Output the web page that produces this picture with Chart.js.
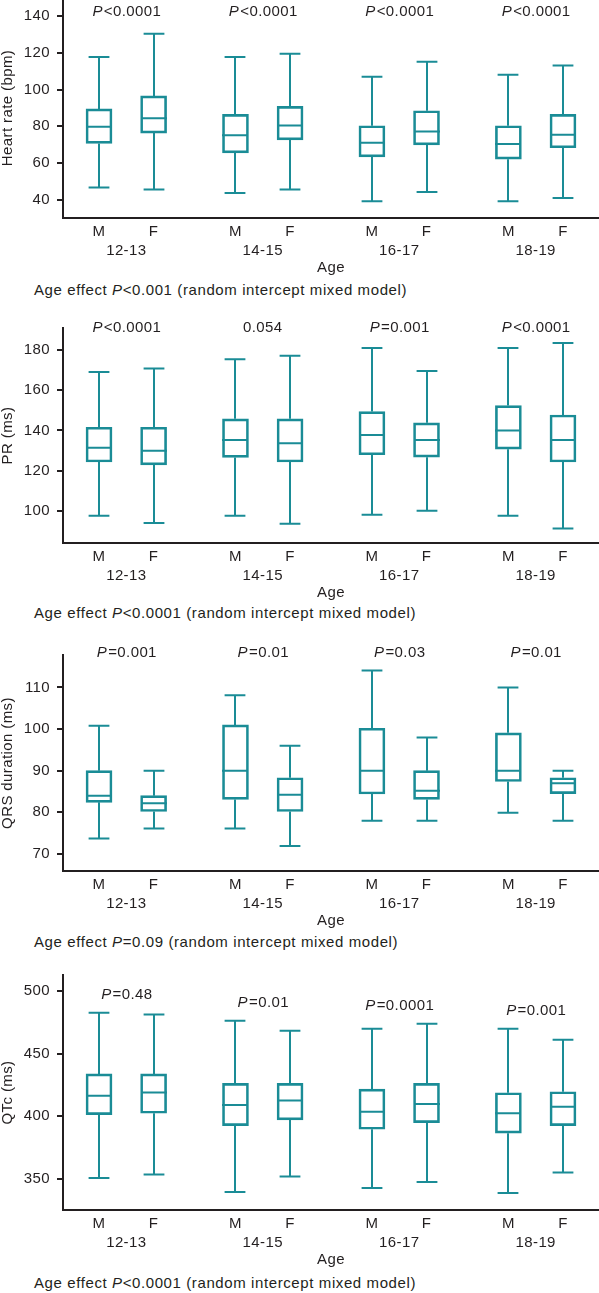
<!DOCTYPE html>
<html>
<head>
<meta charset="utf-8">
<script src="https://cdn.jsdelivr.net/npm/chart.js@4.4.0/dist/chart.umd.min.js"></script>
<style>
body { margin: 0; background: #fff; width: 599px; height: 1293px; position: relative; overflow: hidden; }
canvas { position: absolute; left: 0; }
.caption { position: absolute; left: 34px; font-family: "Liberation Sans", Arial, sans-serif; font-size: 15px; line-height: 18px; letter-spacing: 0.6px; color: #231f20; white-space: nowrap; }
</style>
</head>
<body>
<canvas id="hrChart" width="599" height="297" style="top:-20px"></canvas>
<div class="caption" style="top:281px">Age effect <i>P</i>&lt;0.001 (random intercept mixed model)</div>
<canvas id="prChart" width="599" height="292" style="top:310px"></canvas>
<div class="caption" style="top:604px">Age effect <i>P</i>&lt;0.0001 (random intercept mixed model)</div>
<canvas id="qrsChart" width="599" height="293" style="top:637px"></canvas>
<div class="caption" style="top:933px">Age effect <i>P</i>=0.09 (random intercept mixed model)</div>
<canvas id="qtcChart" width="599" height="312" style="top:957px"></canvas>
<div class="caption" style="top:1274px">Age effect <i>P</i>&lt;0.0001 (random intercept mixed model)</div>

<script>
// Categories: sex within age group
const ageGroups = ['12-13', '14-15', '16-17', '18-19'];
const sexLabels = ['M', 'F', 'M', 'F', 'M', 'F', 'M', 'F'];
const boxPositions = [0, 1, 2.5, 3.5, 5, 6, 7.5, 8.5];
const groupPositions = [0.5, 3, 5.5, 8];

// Heart rate (bpm)
const hrMin = [46.7, 45.5, 43.6, 45.5, 39.1, 44.2, 39.1, 40.9];
const hrQ1 = [70.7, 76.3, 65.5, 72.6, 63.3, 69.9, 62.1, 68.3];
const hrMedian = [79.8, 84.4, 75.2, 80.5, 71.0, 77.2, 70.3, 75.4];
const hrQ3 = [89.5, 96.6, 86.5, 90.9, 80.3, 88.5, 80.3, 86.5];
const hrMax = [117.8, 130.5, 117.8, 119.6, 107.0, 115.2, 108.1, 113.2];
const hrPValues = ['P<0.0001', 'P<0.0001', 'P<0.0001', 'P<0.0001'];
const hrTicks = [40, 60, 80, 100, 120, 140];

// PR (ms)
const prMin = [97.6, 94.0, 97.6, 93.6, 98.0, 100.0, 97.6, 91.2];
const prQ1 = [124.3, 122.9, 126.6, 124.3, 127.9, 126.7, 130.7, 124.3];
const prMedian = [131.4, 129.9, 135.3, 133.7, 137.7, 135.3, 140.0, 135.3];
const prQ3 = [141.6, 141.6, 145.8, 145.8, 149.4, 143.8, 152.4, 147.7];
const prMax = [169.1, 170.9, 175.4, 177.2, 181.1, 169.6, 181.1, 183.5];
const prPValues = ['P<0.0001', '0.054', 'P=0.001', 'P<0.0001'];
const prTicks = [100, 120, 140, 160, 180];

// QRS duration (ms)
const qrsMin = [73.7, 76.1, 76.1, 71.9, 78.0, 78.0, 79.9, 78.0];
const qrsQ1 = [82.4, 80.2, 83.1, 80.2, 84.4, 83.1, 87.4, 84.5];
const qrsMedian = [84.0, 82.2, 90.0, 84.2, 90.0, 85.2, 90.0, 87.0];
const qrsQ3 = [90.0, 84.0, 101.0, 88.3, 100.2, 90.0, 99.1, 88.3];
const qrsMax = [100.8, 90.0, 108.1, 96.0, 114.1, 98.0, 110.0, 90.0];
const qrsPValues = ['P=0.001', 'P=0.01', 'P=0.03', 'P=0.01'];
const qrsTicks = [70, 80, 90, 100, 110];

// QTc (ms)
const qtcMin = [350.6, 353.5, 339.5, 351.9, 342.7, 347.5, 338.7, 355.1];
const qtcQ1 = [401.3, 402.4, 392.5, 397.1, 389.6, 394.9, 386.5, 392.5];
const qtcMedian = [416.4, 419.1, 409.0, 412.7, 403.7, 409.8, 402.4, 407.6];
const qtcQ3 = [433.9, 433.9, 426.3, 426.3, 421.7, 426.3, 418.8, 419.6];
const qtcMax = [482.8, 481.4, 476.4, 468.5, 470.1, 474.0, 470.1, 461.3];
const qtcPValues = ['P=0.48', 'P=0.01', 'P=0.0001', 'P=0.001'];
const qtcTicks = [350, 400, 450, 500];

const teal = '#1a8c96';
const ink = '#231f20';
const fontFamily = '"Liberation Sans", Arial, sans-serif';

// slightly wider text like the original figure
const textSpacing = {
    id: 'textSpacing',
    beforeLayout(chart) { chart.ctx.letterSpacing = '0.4px'; },
    beforeDraw(chart) { chart.ctx.letterSpacing = '0.4px'; }
};

// Whiskers, caps, medians and the P labels on top of the floating bars
const boxExtras = {
    id: 'boxExtras',
    afterDatasetsDraw(chart) {
        const ctx = chart.ctx;
        const xScale = chart.scales.x;
        const yScale = chart.scales.y;
        const ds = chart.data.datasets[0];
        const meta = chart.getDatasetMeta(0);
        ctx.save();
        ctx.strokeStyle = teal;
        ctx.lineWidth = 2;
        ds.data.forEach((d, i) => {
            const cx = Math.round(xScale.getPixelForValue(d.x));
            const half = meta.data[i].width / 2;
            const cap = half * 0.8;
            const yMed = yScale.getPixelForValue(ds.medians[i]);
            const yLow = yScale.getPixelForValue(ds.lows[i]);
            const yHigh = yScale.getPixelForValue(ds.highs[i]);
            const yQ1 = yScale.getPixelForValue(d.y[0]);
            const yQ3 = yScale.getPixelForValue(d.y[1]);
            ctx.beginPath();
            ctx.moveTo(cx - half, yMed);
            ctx.lineTo(cx + half, yMed);
            ctx.moveTo(cx, yQ3);
            ctx.lineTo(cx, yHigh);
            ctx.moveTo(cx - cap, yHigh);
            ctx.lineTo(cx + cap, yHigh);
            ctx.moveTo(cx, yQ1);
            ctx.lineTo(cx, yLow);
            ctx.moveTo(cx - cap, yLow);
            ctx.lineTo(cx + cap, yLow);
            ctx.stroke();
        });

        ctx.fillStyle = ink;
        ctx.textBaseline = 'middle';
        ctx.textAlign = 'left';
        ds.pValues.forEach((label, g) => {
            const cx = xScale.getPixelForValue(groupPositions[g]);
            let cy;
            if (ds.pAnchor === 'whisker') {
                const top = Math.max(ds.highs[2 * g], ds.highs[2 * g + 1]);
                cy = yScale.getPixelForValue(top) + ds.pOffset;
            } else {
                cy = chart.chartArea.top + ds.pOffset;
            }
            const italic = label.charAt(0) === 'P' ? 'P' : '';
            const rest = label.slice(italic.length);
            ctx.font = 'italic 15px ' + fontFamily;
            const wItalic = ctx.measureText(italic).width;
            ctx.font = '15px ' + fontFamily;
            const wRest = ctx.measureText(rest).width;
            let x = cx - (wItalic + wRest) / 2;
            if (italic) {
                ctx.font = 'italic 15px ' + fontFamily;
                ctx.fillText(italic, x, cy);
                x += wItalic + 1;
            }
            ctx.font = '15px ' + fontFamily;
            ctx.fillText(rest, x, cy);
        });
        ctx.restore();
    }
};

function makePanel(canvasId, title, yMin, yMax, ticks, lows, q1, medians, q3, highs, pValues, pAnchor, pOffset) {
    const canvas = document.getElementById(canvasId);
    if (!canvas) {
        console.error("Canvas '" + canvasId + "' not found.");
        return;
    }
    const font = { family: fontFamily, size: 15 };
    const boxes = boxPositions.map((pos, i) => ({ x: pos, y: [q1[i], q3[i]] }));

    new Chart(canvas.getContext('2d'), {
        type: 'bar',
        data: {
            datasets: [{
                data: boxes,
                lows: lows,
                highs: highs,
                medians: medians,
                pValues: pValues,
                pAnchor: pAnchor,
                pOffset: pOffset,
                barThickness: 26,
                borderWidth: 2,
                borderSkipped: false,
                borderColor: teal,
                backgroundColor: 'rgba(0,0,0,0)'
            }]
        },
        options: {
            responsive: false,
            animation: false,
            events: [],
            devicePixelRatio: 1,
            layout: { padding: { top: 18, left: 0, right: 0, bottom: 0 } },
            plugins: {
                legend: { display: false },
                tooltip: { enabled: false }
            },
            scales: {
                x: {
                    type: 'linear',
                    position: 'bottom',
                    weight: 0,
                    offset: false,
                    min: -0.66,
                    max: 9.16,
                    afterBuildTicks: s => { s.ticks = boxPositions.map(v => ({ value: v })); },
                    afterFit: s => { s.height = 22; },
                    grid: { display: false, drawTicks: false, offset: false },
                    border: { display: true, color: ink, width: 2 },
                    ticks: {
                        autoSkip: false,
                        maxRotation: 0,
                        padding: 5,
                        color: ink,
                        font: font,
                        callback: (v, i) => sexLabels[i]
                    }
                },
                x2: {
                    type: 'linear',
                    position: 'bottom',
                    weight: 1,
                    offset: false,
                    min: -0.66,
                    max: 9.16,
                    afterBuildTicks: s => { s.ticks = groupPositions.map(v => ({ value: v })); },
                    afterFit: s => { s.height = 37; },
                    grid: { display: false, drawTicks: false, offset: false },
                    border: { display: false },
                    ticks: {
                        autoSkip: false,
                        maxRotation: 0,
                        padding: 2,
                        color: ink,
                        font: font,
                        callback: (v, i) => ageGroups[i]
                    },
                    title: { display: true, text: 'Age', color: ink, font: font, padding: 0 }
                },
                y: {
                    min: yMin,
                    max: yMax,
                    afterBuildTicks: s => { s.ticks = ticks.map(v => ({ value: v })); },
                    afterFit: s => { s.width = 63; },
                    border: { display: true, color: ink, width: 2 },
                    grid: { drawOnChartArea: false, drawTicks: true, tickLength: 6, color: ink, lineWidth: 2 },
                    ticks: { padding: 7, color: ink, font: font },
                    title: {
                        display: true,
                        text: title,
                        color: ink,
                        font: { family: fontFamily, size: 15, lineHeight: 1 },
                        padding: 0
                    }
                }
            }
        },
        plugins: [textSpacing, boxExtras]
    });
}

document.addEventListener('DOMContentLoaded', () => {
    makePanel('hrChart', 'Heart rate (bpm)', 30, 150, hrTicks,
        hrMin, hrQ1, hrMedian, hrQ3, hrMax, hrPValues, 'top', 13.7);
    makePanel('prChart', 'PR (ms)', 84, 191, prTicks,
        prMin, prQ1, prMedian, prQ3, prMax, prPValues, 'top', 0);
    makePanel('qrsChart', 'QRS duration (ms)', 65.9, 117.8, qrsTicks,
        qrsMin, qrsQ1, qrsMedian, qrsQ3, qrsMax, qrsPValues, 'top', -2);
    makePanel('qtcChart', 'QTc (ms)', 325, 513, qtcTicks,
        qtcMin, qtcQ1, qtcMedian, qtcQ3, qtcMax, qtcPValues, 'whisker', -18);
});
</script>
</body>
</html>
